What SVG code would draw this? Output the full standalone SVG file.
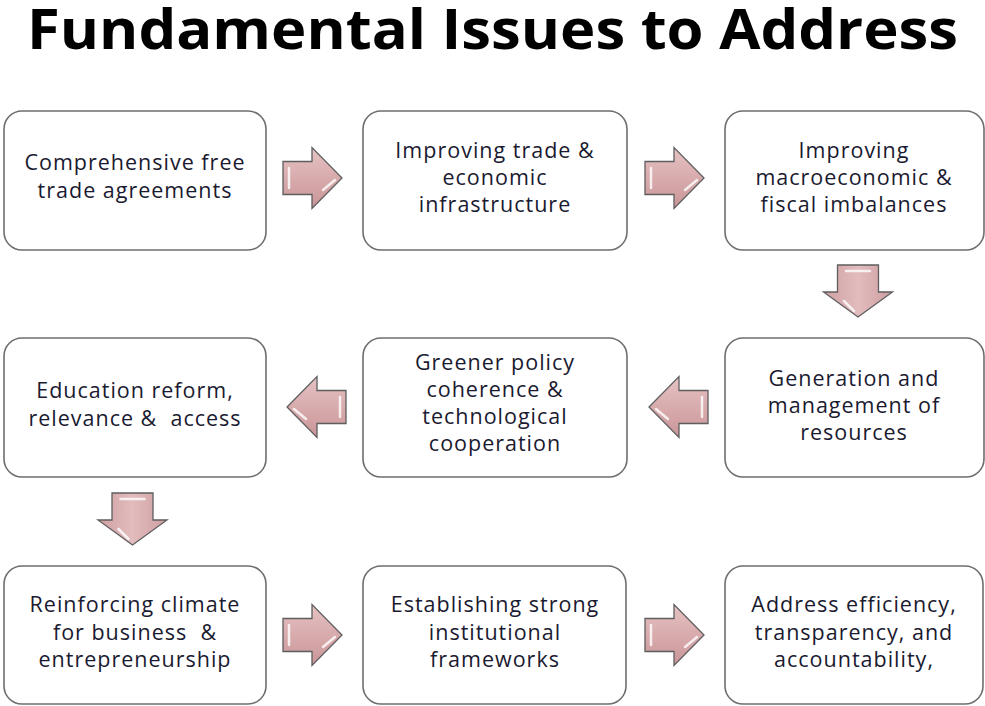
<svg xmlns="http://www.w3.org/2000/svg" width="985" height="706" viewBox="0 0 985 706">
<defs>
<linearGradient id="ag" x1="0" y1="0" x2="0" y2="1">
<stop offset="0" stop-color="#e6c3c4"/>
<stop offset="0.5" stop-color="#d8abad"/>
<stop offset="1" stop-color="#c99598"/>
</linearGradient>
<linearGradient id="agd" x1="0" y1="0" x2="1" y2="0">
<stop offset="0" stop-color="#cf9fa2"/>
<stop offset="0.5" stop-color="#e2bcbe"/>
<stop offset="1" stop-color="#cd9da0"/>
</linearGradient>
<path id="ra" d="M0,-16.5 H29 V-30.5 L59,0 L29,30.5 V16.5 H0 Z"/>
<path id="da" d="M-20.5,0 H20.5 V27 H34.5 L0,52 L-34.5,27 H-20.5 Z"/>
</defs>
<style>
.box{fill:#ffffff;stroke:#6e6e6e;stroke-width:1.6}
.t{font-family:"Open Sans","Noto Sans",sans-serif;font-size:21.5px;letter-spacing:1px;fill:#1a1a30;text-anchor:middle}
.title{font-family:"Open Sans","Noto Sans",sans-serif;font-size:55px;font-weight:bold;fill:#000}
.ar{fill:url(#ag);stroke:#5e5e5e;stroke-width:1.3;stroke-linejoin:miter}
.ad{fill:url(#agd);stroke:#5e5e5e;stroke-width:1.3}
.hl{fill:none;stroke:#ffffff;stroke-opacity:0.8;stroke-width:2.5;stroke-linecap:round}
</style>
<rect width="985" height="706" fill="#ffffff"/>
<text class="title" x="27" y="49" textLength="931" lengthAdjust="spacingAndGlyphs">Fundamental Issues to Address</text>

<g id="connectors">
<g transform="translate(283,178)"><use href="#ra" class="ar"/><path class="hl" d="M6,-10 V10 M40,12 L52,2"/></g>
<g transform="translate(645,178)"><use href="#ra" class="ar"/><path class="hl" d="M6,-10 V10 M40,12 L52,2"/></g>
<g transform="translate(858,265)"><use href="#da" class="ad"/><path class="hl" d="M-12,6 H12 M-14,36 L-4,46"/></g>
<g transform="translate(708,407) scale(-1,1)"><use href="#ra" class="ar"/><path class="hl" d="M6,-10 V10 M40,12 L52,2"/></g>
<g transform="translate(346,407) scale(-1,1)"><use href="#ra" class="ar"/><path class="hl" d="M6,-10 V10 M40,12 L52,2"/></g>
<g transform="translate(132.5,493)"><use href="#da" class="ad"/><path class="hl" d="M-12,6 H12 M-14,36 L-4,46"/></g>
<g transform="translate(283,635)"><use href="#ra" class="ar"/><path class="hl" d="M6,-10 V10 M40,12 L52,2"/></g>
<g transform="translate(645,635)"><use href="#ra" class="ar"/><path class="hl" d="M6,-10 V10 M40,12 L52,2"/></g>
</g>

<g id="n1"><rect class="box" x="4" y="111" width="262" height="139" rx="18"/>
<text class="t" x="135" y="170">Comprehensive free</text>
<text class="t" x="135" y="198">trade agreements</text></g>

<g id="n2"><rect class="box" x="363" y="111" width="264" height="139" rx="18"/>
<text class="t" x="495" y="158">Improving trade &amp;</text>
<text class="t" x="495" y="185">economic</text>
<text class="t" x="495" y="212">infrastructure</text></g>

<g id="n3"><rect class="box" x="725" y="111" width="259" height="139" rx="18"/>
<text class="t" x="854" y="158">Improving</text>
<text class="t" x="854" y="185">macroeconomic &amp;</text>
<text class="t" x="854" y="212">fiscal imbalances</text></g>

<g id="n4"><rect class="box" x="725" y="338" width="259" height="139" rx="18"/>
<text class="t" x="854" y="386">Generation and</text>
<text class="t" x="854" y="413">management of</text>
<text class="t" x="854" y="440">resources</text></g>

<g id="n5"><rect class="box" x="363" y="338" width="264" height="139" rx="18"/>
<text class="t" x="495" y="370">Greener policy</text>
<text class="t" x="495" y="397">coherence &amp;</text>
<text class="t" x="495" y="424">technological</text>
<text class="t" x="495" y="451">cooperation</text></g>

<g id="n6"><rect class="box" x="4" y="338" width="262" height="139" rx="18"/>
<text class="t" x="135" y="398">Education reform,</text>
<text class="t" x="135" y="426" xml:space="preserve">relevance &amp;  access</text></g>

<g id="n7"><rect class="box" x="4" y="566" width="262" height="138" rx="18"/>
<text class="t" x="135" y="612">Reinforcing climate</text>
<text class="t" x="135" y="640" xml:space="preserve">for business  &amp;</text>
<text class="t" x="135" y="667">entrepreneurship</text></g>

<g id="n8"><rect class="box" x="363" y="566" width="263" height="138" rx="18"/>
<text class="t" x="495" y="612">Establishing strong</text>
<text class="t" x="495" y="640">institutional</text>
<text class="t" x="495" y="667">frameworks</text></g>

<g id="n9"><rect class="box" x="725" y="566" width="258" height="138" rx="18"/>
<text class="t" x="854" y="612">Address efficiency,</text>
<text class="t" x="854" y="640">transparency, and</text>
<text class="t" x="854" y="667">accountability,</text></g>
</svg>
